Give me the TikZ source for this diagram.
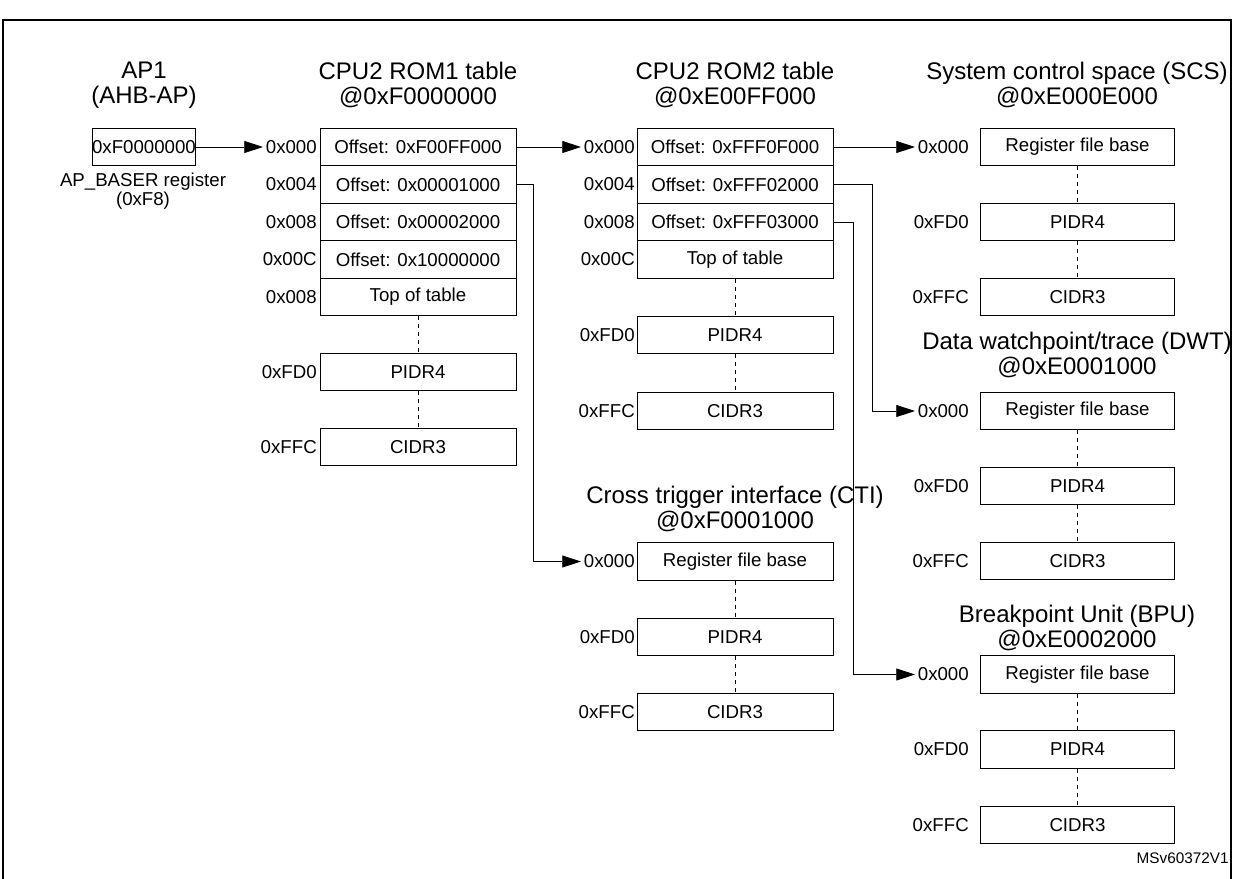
\documentclass[tikz,border=0pt]{standalone}
\usepackage{fontspec}
\setmainfont{Liberation Sans}
\usetikzlibrary{arrows.meta}
\begin{document}
\begin{tikzpicture}[x=0.75pt,y=-0.75pt,
  box/.style={draw,line width=0.6pt,minimum height=28.2pt,inner sep=0pt,font=\fontsize{14}{16}\selectfont},
  wb/.style={box,minimum width=147pt},
  rb/.style={box,minimum width=146pt},
  lbl/.style={anchor=east,inner sep=0pt,font=\fontsize{14}{16}\selectfont},
  ttl/.style={align=center,font=\fontsize{18}{19}\selectfont,inner sep=0pt},
  dsh/.style={dashed,line width=0.6pt},
  arr/.style={line width=0.6pt,-{Triangle[length=14pt,width=9pt]}},
  ln/.style={line width=0.6pt}]
\useasboundingbox (0,0) rectangle (1234,878);
\draw[line width=1.5pt] (3,900) -- (3,20) -- (1231,20) -- (1231,900);
% AP
\node[ttl] (tap) at (144,85) {AP1\\(AHB-AP)};
\node[box,minimum width=72pt] (ap) at (144,147) {0xF0000000};
\node[align=center,font=\fontsize{14}{13}\selectfont,inner sep=0pt] (apl) at (143,191) {AP\_BASER register\\(0xF8)};
% ROM1
\node[ttl] (t1) at (418,85) {CPU2 ROM1 table\\@0xF0000000};
\node[wb] (a0) at (418,147) {Offset: 0xF00FF000};
\node[wb] (a1) at (418,184.5) {Offset: 0x00001000};
\node[wb] (a2) at (418,222) {Offset: 0x00002000};
\node[wb] (a3) at (418,259.5) {Offset: 0x10000000};
\node[wb] (a4) at (418,297) {Top of table};
\node[wb] (a5) at (418,372) {PIDR4};
\node[wb] (a6) at (418,447) {CIDR3};
\node[lbl] (la0) at (317,147) {0x000};
\node[lbl] (la1) at (317,184.5) {0x004};
\node[lbl] (la2) at (317,222) {0x008};
\node[lbl] (la3) at (317,259.5) {0x00C};
\node[lbl] (la4) at (317,297) {0x008};
\node[lbl] (la5) at (317,372) {0xFD0};
\node[lbl] (la6) at (317,447) {0xFFC};
\draw[dsh] (a4.south) -- (a5.north);
\draw[dsh] (a5.south) -- (a6.north);
% ROM2
\node[ttl] (t2) at (735,85) {CPU2 ROM2 table\\@0xE00FF000};
\node[wb] (b0) at (735,147) {Offset: 0xFFF0F000};
\node[wb] (b1) at (735,184.5) {Offset: 0xFFF02000};
\node[wb] (b2) at (735,222) {Offset: 0xFFF03000};
\node[wb] (b3) at (735,259.5) {Top of table};
\node[wb] (b4) at (735,335) {PIDR4};
\node[wb] (b5) at (735,411) {CIDR3};
\node[lbl] (lb0) at (635,147) {0x000};
\node[lbl] (lb1) at (635,184.5) {0x004};
\node[lbl] (lb2) at (635,222) {0x008};
\node[lbl] (lb3) at (635,259.5) {0x00C};
\node[lbl] (lb4) at (635,335) {0xFD0};
\node[lbl] (lb5) at (635,411) {0xFFC};
\draw[dsh] (b3.south) -- (b4.north);
\draw[dsh] (b4.south) -- (b5.north);
% CTI
\node[ttl] (tc) at (735,509) {Cross trigger interface (CTI)\\@0xF0001000};
\node[wb] (c0) at (735,561.5) {Register file base};
\node[wb] (c1) at (735,637) {PIDR4};
\node[wb] (c2) at (735,712) {CIDR3};
\node[lbl] (lc0) at (635,561.5) {0x000};
\node[lbl] (lc1) at (635,637) {0xFD0};
\node[lbl] (lc2) at (635,712) {0xFFC};
\draw[dsh] (c0.south) -- (c1.north);
\draw[dsh] (c1.south) -- (c2.north);
% SCS
\node[ttl] (ts) at (1077,85) {System control space (SCS)\\@0xE000E000};
\node[rb] (s0) at (1077.5,147) {Register file base};
\node[rb] (s1) at (1077.5,222) {PIDR4};
\node[rb] (s2) at (1077.5,297) {CIDR3};
\node[lbl] (ls0) at (969,147) {0x000};
\node[lbl] (ls1) at (969,222) {0xFD0};
\node[lbl] (ls2) at (969,297) {0xFFC};
\draw[dsh] (s0.south) -- (s1.north);
\draw[dsh] (s1.south) -- (s2.north);
% DWT
\node[ttl] (td) at (1077,355) {Data watchpoint/trace (DWT)\\@0xE0001000};
\node[rb] (d0) at (1077.5,411) {Register file base};
\node[rb] (d1) at (1077.5,486) {PIDR4};
\node[rb] (d2) at (1077.5,561) {CIDR3};
\node[lbl] (ld0) at (969,411) {0x000};
\node[lbl] (ld1) at (969,486) {0xFD0};
\node[lbl] (ld2) at (969,561) {0xFFC};
\draw[dsh] (d0.south) -- (d1.north);
\draw[dsh] (d1.south) -- (d2.north);
% BPU
\node[ttl] (tb) at (1077,628) {Breakpoint Unit (BPU)\\@0xE0002000};
\node[rb] (p0) at (1077.5,674.5) {Register file base};
\node[rb] (p1) at (1077.5,749.5) {PIDR4};
\node[rb] (p2) at (1077.5,825) {CIDR3};
\node[lbl] (lp0) at (969,674.5) {0x000};
\node[lbl] (lp1) at (969,749.5) {0xFD0};
\node[lbl] (lp2) at (969,825) {0xFFC};
\draw[dsh] (p0.south) -- (p1.north);
\draw[dsh] (p1.south) -- (p2.north);
% connectors
\draw[arr] (ap.east) -- ([xshift=-2pt]la0.west);
\draw[arr] (a0.east) -- ([xshift=-2pt]lb0.west);
\draw[arr] (a1.east) -- ++(17,0) |- ([xshift=-2pt]lc0.west);
\draw[arr] (b0.east) -- ([xshift=-2pt]ls0.west);
\draw[arr] (b1.east) -- ++(39,0) |- ([xshift=-2pt]ld0.west);
\draw[arr] (b2.east) -- ++(20,0) |- ([xshift=-2pt]lp0.west);
\node[anchor=east,inner sep=0pt,font=\fontsize{11.5}{13}\selectfont] (ms) at (1229,858) {MSv60372V1};
\end{tikzpicture}
\end{document}
